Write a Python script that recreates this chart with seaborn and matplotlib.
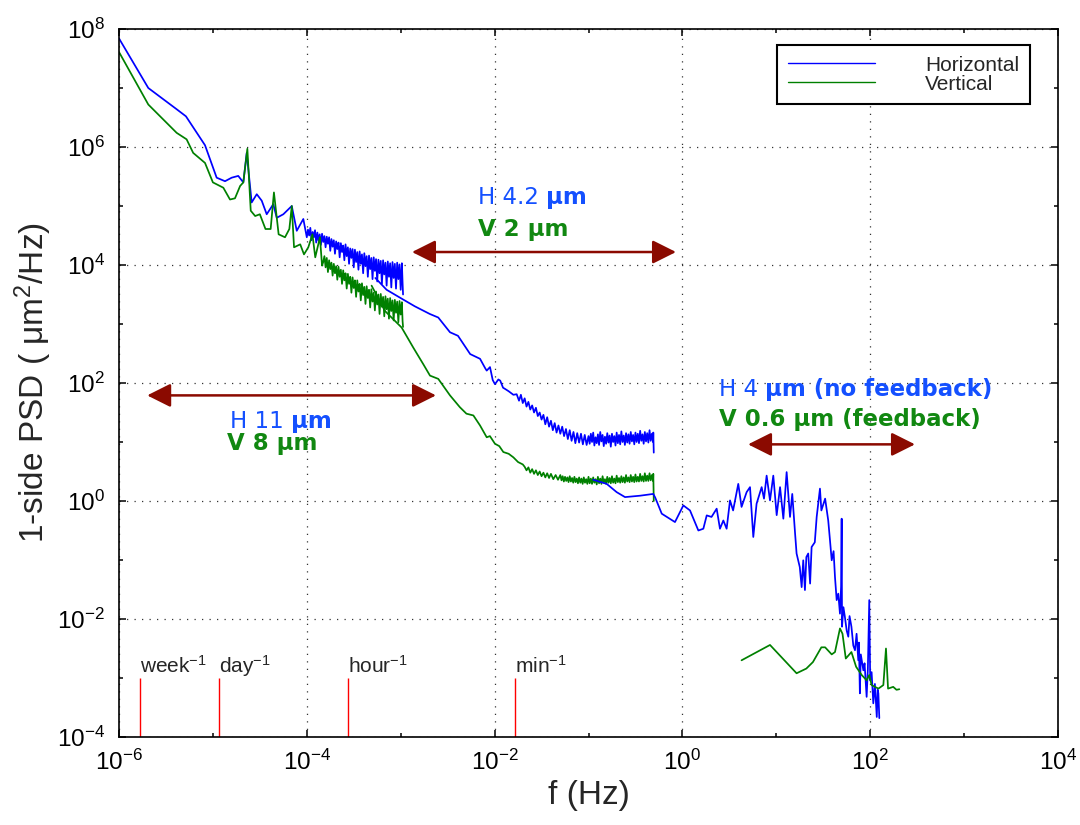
import numpy as np
import pandas as pd
import matplotlib
matplotlib.use("Agg")
import matplotlib.pyplot as plt
import matplotlib.ticker as mticker
import seaborn as sns

# values, stored as (log10 f, log10 PSD)
h_low = [(-6.0, 7.84), (-5.688, 7.00), (-5.386, 6.64), (-5.287, 6.52), (-5.084, 6.03),
         (-4.96, 5.48), (-4.871, 5.42), (-4.80, 5.48), (-4.73, 5.51), (-4.676, 5.40),
         (-4.64, 5.90), (-4.587, 5.06), (-4.533, 5.20), (-4.48, 5.09), (-4.427, 4.86),
         (-4.357, 5.03), (-4.32, 4.80), (-4.25, 4.86), (-4.16, 5.00), (-4.107, 4.58),
         (-4.037, 4.78),
         (-4.0000, 4.47), (-3.9875, 4.60), (-3.9750, 4.50), (-3.9625, 4.63), (-3.9500, 4.42),
         (-3.9375, 4.56), (-3.9250, 4.47), (-3.9125, 4.59), (-3.9000, 4.38), (-3.8875, 4.55),
         (-3.8750, 4.41), (-3.8625, 4.52), (-3.8500, 4.34), (-3.8375, 4.53), (-3.8250, 4.39),
         (-3.8125, 4.49), (-3.8000, 4.30), (-3.7875, 4.48), (-3.7750, 4.36), (-3.7625, 4.47),
         (-3.7500, 4.24), (-3.7375, 4.44), (-3.7250, 4.31), (-3.7125, 4.42), (-3.7000, 4.19),
         (-3.6875, 4.40), (-3.6750, 4.27), (-3.6625, 4.38), (-3.6500, 4.13), (-3.6375, 4.37),
         (-3.6250, 4.22), (-3.6125, 4.33), (-3.6000, 4.08), (-3.5875, 4.35), (-3.5750, 4.15),
         (-3.5625, 4.30), (-3.5500, 4.02), (-3.5375, 4.28), (-3.5250, 4.12), (-3.5125, 4.27),
         (-3.5000, 3.96), (-3.4875, 4.26), (-3.4750, 4.05), (-3.4625, 4.22), (-3.4500, 3.92),
         (-3.4375, 4.23), (-3.4250, 4.02), (-3.4125, 4.18), (-3.4000, 3.86), (-3.3875, 4.20),
         (-3.3750, 3.98), (-3.3625, 4.15), (-3.3500, 3.80), (-3.3375, 4.16), (-3.3250, 3.93),
         (-3.3125, 4.12), (-3.3000, 3.76), (-3.2875, 4.13), (-3.2750, 3.90), (-3.2625, 4.10),
         (-3.2500, 3.72), (-3.2375, 4.09), (-3.2250, 3.86), (-3.2125, 4.07), (-3.2000, 3.68),
         (-3.1875, 4.08), (-3.1750, 3.84), (-3.1625, 4.04), (-3.1500, 3.65), (-3.1375, 4.06),
         (-3.1250, 3.80), (-3.1125, 4.03), (-3.1000, 3.62), (-3.0875, 4.05), (-3.0750, 3.78),
         (-3.0625, 4.02), (-3.0500, 3.60), (-3.0375, 4.04), (-3.0250, 3.76), (-3.0125, 4.01),
         (-3.0000, 3.58), (-2.9875, 4.03), (-2.9800, 3.70), (-2.9750, 3.50)]

v_low = [(-6.0, 7.61), (-5.688, 6.72), (-5.386, 6.24), (-5.28, 6.13), (-5.21, 5.90),
         (-5.084, 5.73), (-5.0, 5.40), (-4.889, 5.31), (-4.818, 5.11), (-4.765, 5.13),
         (-4.71, 5.34), (-4.676, 5.40), (-4.633, 5.97), (-4.597, 4.92), (-4.55, 4.83),
         (-4.50, 4.86), (-4.44, 4.61), (-4.385, 4.61), (-4.35, 5.23), (-4.30, 4.52),
         (-4.232, 4.47), (-4.186, 4.61), (-4.16, 5.00), (-4.136, 4.30), (-4.07, 4.35),
         (-4.03, 4.18), (-3.984, 4.30), (-3.94, 4.52), (-3.91, 4.13), (-3.86, 4.47),
         (-3.8375, 3.99), (-3.8250, 4.05), (-3.8125, 4.15), (-3.8000, 3.96), (-3.7875, 4.12),
         (-3.7750, 3.88), (-3.7625, 4.08), (-3.7500, 3.93), (-3.7375, 4.04), (-3.7250, 3.82),
         (-3.7125, 4.02), (-3.7000, 3.86), (-3.6875, 3.98), (-3.6750, 3.75), (-3.6625, 3.97),
         (-3.6500, 3.80), (-3.6375, 3.92), (-3.6250, 3.68), (-3.6125, 3.91), (-3.6000, 3.74),
         (-3.5875, 3.86), (-3.5750, 3.60), (-3.5625, 3.85), (-3.5500, 3.68), (-3.5375, 3.80),
         (-3.5250, 3.53), (-3.5125, 3.79), (-3.5000, 3.61), (-3.4875, 3.74), (-3.4750, 3.46),
         (-3.4625, 3.74), (-3.4500, 3.55), (-3.4375, 3.68), (-3.4250, 3.40), (-3.4125, 3.69),
         (-3.4000, 3.49), (-3.3875, 3.63), (-3.3750, 3.34), (-3.3625, 3.64), (-3.3500, 3.44),
         (-3.3375, 3.58), (-3.3250, 3.28), (-3.3125, 3.59), (-3.3000, 3.38), (-3.2875, 3.53),
         (-3.2750, 3.23), (-3.2625, 3.55), (-3.2500, 3.33), (-3.2375, 3.50), (-3.2250, 3.17),
         (-3.2125, 3.51), (-3.2000, 3.29), (-3.1875, 3.46), (-3.1750, 3.13), (-3.1625, 3.47),
         (-3.1500, 3.25), (-3.1375, 3.43), (-3.1250, 3.09), (-3.1125, 3.44), (-3.1000, 3.22),
         (-3.0875, 3.40), (-3.0750, 3.06), (-3.0625, 3.41), (-3.0500, 3.19), (-3.0375, 3.38),
         (-3.0250, 3.03), (-3.0125, 3.39), (-3.0000, 3.16), (-2.9875, 3.37), (-2.9800, 3.05),
         (-2.9750, 2.95)]

h_mid = [(-3.27, 3.78), (-3.15, 3.58), (-2.99, 3.43), (-2.85, 3.30), (-2.69, 3.17),
         (-2.60, 3.11), (-2.475, 2.86), (-2.39, 2.80), (-2.26, 2.49), (-2.155, 2.41),
         (-2.10, 2.25), (-2.084, 2.21), (-2.049, 2.27), (-2.02, 2.05), (-1.996, 1.98),
         (-1.96, 2.06), (-1.94, 2.04), (-1.91, 1.92), (-1.889, 1.90), (-1.85, 1.86),
         (-1.80, 1.80), (-1.765, 1.81), (-1.74, 1.70), (-1.72, 1.80), (-1.70, 1.66),
         (-1.68, 1.74), (-1.66, 1.60), (-1.64, 1.68), (-1.62, 1.55), (-1.60, 1.62),
         (-1.58, 1.50), (-1.56, 1.58), (-1.54, 1.44), (-1.52, 1.50), (-1.50, 1.38),
         (-1.48, 1.46), (-1.46, 1.30), (-1.44, 1.42), (-1.42, 1.26), (-1.40, 1.36),
         (-1.38, 1.20), (-1.36, 1.32), (-1.34, 1.16), (-1.32, 1.28), (-1.30, 1.14),
         (-1.28, 1.26), (-1.26, 1.10), (-1.24, 1.22), (-1.22, 1.05), (-1.20, 1.20),
         (-1.18, 1.02), (-1.16, 1.17), (-1.14, 0.98), (-1.12, 1.15), (-1.10, 0.99),
         (-1.08, 1.14), (-1.06, 0.96), (-1.04, 1.12), (-1.02, 0.95),
         (-1.0000, 1.10), (-0.9875, 0.97), (-0.9750, 1.14), (-0.9625, 1.00), (-0.9500, 1.16),
         (-0.9375, 0.94), (-0.9250, 1.08), (-0.9125, 0.98), (-0.9000, 1.13), (-0.8875, 0.95),
         (-0.8750, 1.17), (-0.8625, 1.01), (-0.8500, 1.12), (-0.8375, 0.93), (-0.8250, 1.09),
         (-0.8125, 0.97), (-0.8000, 1.15), (-0.7875, 0.99), (-0.7750, 1.11), (-0.7625, 0.92),
         (-0.7500, 1.14), (-0.7375, 1.00), (-0.7250, 1.10), (-0.7125, 0.94), (-0.7000, 1.16),
         (-0.6875, 0.98), (-0.6750, 1.12), (-0.6625, 0.96), (-0.6500, 1.18), (-0.6375, 1.00),
         (-0.6250, 1.11), (-0.6125, 0.95), (-0.6000, 1.15), (-0.5875, 0.99), (-0.5750, 1.13),
         (-0.5625, 0.97), (-0.5500, 1.17), (-0.5375, 1.01), (-0.5250, 1.12), (-0.5125, 0.96),
         (-0.5000, 1.16), (-0.4875, 1.00), (-0.4750, 1.14), (-0.4625, 0.98), (-0.4500, 1.19),
         (-0.4375, 1.02), (-0.4250, 1.13), (-0.4125, 0.97), (-0.4000, 1.17), (-0.3875, 1.01),
         (-0.3750, 1.15), (-0.3625, 0.99), (-0.3500, 1.20), (-0.3375, 1.02), (-0.3250, 1.14),
         (-0.3125, 1.00), (-0.3100, 1.16), (-0.3050, 0.82)]

v_mid = [(-3.31, 3.65), (-3.167, 3.22), (-2.99, 2.94), (-2.866, 2.60), (-2.76, 2.32),
         (-2.688, 2.125), (-2.60, 2.07), (-2.475, 1.79), (-2.37, 1.59), (-2.30, 1.48),
         (-2.226, 1.45), (-2.155, 1.28), (-2.084, 1.08), (-2.05, 1.10), (-1.996, 0.97),
         (-1.95, 0.93), (-1.907, 0.83), (-1.85, 0.80), (-1.80, 0.74), (-1.75, 0.66),
         (-1.70, 0.62), (-1.68, 0.58), (-1.66, 0.52), (-1.64, 0.57), (-1.62, 0.48),
         (-1.60, 0.54), (-1.58, 0.46), (-1.56, 0.52), (-1.54, 0.44), (-1.52, 0.50),
         (-1.50, 0.42), (-1.48, 0.48), (-1.46, 0.40), (-1.44, 0.47), (-1.42, 0.39),
         (-1.40, 0.46), (-1.375, 0.37), (-1.35, 0.44), (-1.325, 0.36),
         (-1.3000, 0.44), (-1.2875, 0.35), (-1.2750, 0.42), (-1.2625, 0.33), (-1.2500, 0.41),
         (-1.2375, 0.34), (-1.2250, 0.40), (-1.2125, 0.32), (-1.2000, 0.42), (-1.1875, 0.33),
         (-1.1750, 0.39), (-1.1625, 0.31), (-1.1500, 0.41), (-1.1375, 0.32), (-1.1250, 0.38),
         (-1.1125, 0.30), (-1.1000, 0.40), (-1.0875, 0.31), (-1.0750, 0.38), (-1.0625, 0.29),
         (-1.0500, 0.40), (-1.0375, 0.31), (-1.0250, 0.37), (-1.0125, 0.29), (-1.0000, 0.41),
         (-0.9875, 0.30), (-0.9750, 0.38), (-0.9625, 0.29), (-0.9500, 0.40), (-0.9375, 0.31),
         (-0.9250, 0.37), (-0.9125, 0.28), (-0.9000, 0.41), (-0.8875, 0.30), (-0.8750, 0.38),
         (-0.8625, 0.29), (-0.8500, 0.42), (-0.8375, 0.31), (-0.8250, 0.37), (-0.8125, 0.29),
         (-0.8000, 0.41), (-0.7875, 0.31), (-0.7750, 0.39), (-0.7625, 0.30), (-0.7500, 0.42),
         (-0.7375, 0.31), (-0.7250, 0.38), (-0.7125, 0.30), (-0.7000, 0.43), (-0.6875, 0.32),
         (-0.6750, 0.39), (-0.6625, 0.31), (-0.6500, 0.42), (-0.6375, 0.32), (-0.6250, 0.40),
         (-0.6125, 0.31), (-0.6000, 0.44), (-0.5875, 0.33), (-0.5750, 0.40), (-0.5625, 0.32),
         (-0.5500, 0.44), (-0.5375, 0.33), (-0.5250, 0.41), (-0.5125, 0.32), (-0.5000, 0.45),
         (-0.4875, 0.33), (-0.4750, 0.41), (-0.4625, 0.33), (-0.4500, 0.46), (-0.4375, 0.34),
         (-0.4250, 0.42), (-0.4125, 0.33), (-0.4000, 0.47), (-0.3875, 0.34), (-0.3750, 0.43),
         (-0.3625, 0.34), (-0.3500, 0.47), (-0.3375, 0.35), (-0.3250, 0.44), (-0.3125, 0.34),
         (-0.3100, 0.46), (-0.3050, 0.00)]

h_high = [(-0.95, 0.36), (-0.806, 0.29), (-0.70, 0.15), (-0.611, 0.066), (-0.45, 0.09),
          (-0.31, 0.12), (-0.29, 0.06), (-0.22, -0.215), (-0.079, -0.357), (0.01, -0.075),
          (0.081, -0.16), (0.17, -0.50), (0.223, -0.47), (0.259, -0.244), (0.31, -0.27),
          (0.365, -0.13), (0.40, -0.47), (0.436, -0.33), (0.471, -0.47), (0.507, 0.01),
          (0.54, -0.16), (0.595, 0.29), (0.63, -0.10), (0.684, 0.15), (0.72, 0.235),
          (0.755, -0.61), (0.79, -0.046), (0.844, 0.235), (0.869, 0.04), (0.897, 0.43),
          (0.933, 0.01), (0.968, 0.43), (1.004, -0.24), (1.04, 0.235), (1.075, -0.30),
          (1.11, 0.49), (1.146, -0.27), (1.17, 0.12), (1.20, -0.55), (1.216, -0.89),
          (1.25, -1.12), (1.27, -1.46), (1.287, -1.005), (1.305, -1.51), (1.32, -0.95),
          (1.34, -0.89), (1.36, -1.40), (1.376, -0.78), (1.41, -0.70), (1.43, -0.27),
          (1.465, 0.21), (1.48, -0.16), (1.52, 0.04), (1.553, -0.33), (1.572, -0.67),
          (1.59, -1.005), (1.61, -0.85), (1.625, -1.29), (1.643, -1.68), (1.66, -1.57),
          (1.678, -1.91), (1.69, -1.45), (1.696, -0.30), (1.70, -2.13), (1.715, -1.80),
          (1.73, -1.96), (1.75, -2.20), (1.767, -2.30), (1.78, -1.95), (1.80, -2.13),
          (1.82, -2.45), (1.838, -2.53), (1.855, -2.25), (1.873, -2.70), (1.88, -2.40),
          (1.89, -3.26), (1.90, -2.60), (1.927, -2.87), (1.94, -2.75), (1.962, -3.32),
          (1.975, -2.85), (1.99, -1.68), (2.0, -3.04), (2.015, -2.90), (2.033, -3.43),
          (2.05, -3.10), (2.07, -3.66), (2.08, -3.20), (2.087, -3.26), (2.097, -3.68)]

v_high = [(0.63, -2.70), (0.933, -2.44), (1.216, -2.92), (1.32, -2.84), (1.39, -2.73),
          (1.48, -2.48), (1.52, -2.48), (1.59, -2.60), (1.625, -2.56), (1.678, -2.16),
          (1.705, -2.25), (1.74, -2.67), (1.80, -2.56), (1.85, -2.81), (1.91, -2.95),
          (1.962, -3.04), (1.99, -2.95), (2.015, -3.12), (2.087, -3.18), (2.14, -3.12),
          (2.168, -2.50), (2.19, -3.18), (2.245, -3.15), (2.28, -3.20), (2.31, -3.19)]

period_names = ["week", "day", "hour", "min"]
period_seconds = [604800, 86400, 3600, 60]

BLUE = "#0000ff"
GREEN = "#008000"
TXT_BLUE = "#1450ff"
TXT_GREEN = "#118811"
DARKRED = "#8b0a00"

sns.set_theme(style="ticks")
plt.rcParams["font.family"] = ["Liberation Sans", "DejaVu Sans"]
plt.rcParams["mathtext.fontset"] = "custom"
plt.rcParams["mathtext.rm"] = "Liberation Sans"
plt.rcParams["mathtext.it"] = "Liberation Sans:italic"
plt.rcParams["mathtext.bf"] = "Liberation Sans:bold"

fig = plt.figure(figsize=(10.8, 8.25), dpi=100)
ax = fig.add_axes([119 / 1080, 88 / 825, 939 / 1080, 708 / 825])
ax.set_xscale("log")
ax.set_yscale("log")
ax.set_xlim(1e-6, 1e4)
ax.set_ylim(1e-4, 1e8)


def seg(points):
    arr = np.array(points)
    return pd.DataFrame({"f": 10 ** arr[:, 0], "psd": 10 ** arr[:, 1]})


plot_order = [(h_low, BLUE, "Horizontal"), (v_low, GREEN, "Vertical"),
              (h_mid, BLUE, None), (v_mid, GREEN, None),
              (h_high, BLUE, None), (v_high, GREEN, None)]
for pts, col, lab in plot_order:
    sns.lineplot(data=seg(pts), x="f", y="psd", color=col, lw=1.25, sort=False,
                 estimator=None, ax=ax, label=lab, legend=False)

# reference frequencies
freqs = [1.0 / s for s in period_seconds]
ax.vlines(freqs, 1e-4, 1e-3, color="#ff0000", lw=1.0)
for name, fr in zip(period_names, freqs):
    ax.text(fr, 10 ** -2.917, name + "$^{-1}$", fontsize=15, va="baseline", ha="left")

# arrows
arrows = [(-2.88, -0.068, 4.22), (-5.70, -2.624, 1.79), (0.699, 2.477, 0.96)]
for x1, x2, yy in arrows:
    ax.annotate("", xy=(10 ** x2, 10 ** yy), xytext=(10 ** x1, 10 ** yy),
                arrowprops=dict(arrowstyle="<|-|>,head_length=1.0,head_width=0.5",
                                mutation_scale=14.4, color=DARKRED, lw=1.8,
                                shrinkA=0, shrinkB=0))

ANN_FONT = ["DejaVu Sans"]


def mixed(x, y, plain, bold, color, fs=16.5):
    t = ax.text(10 ** x, 10 ** y, plain, color=color, fontsize=fs, ha="left",
                va="baseline", family=ANN_FONT)
    ax.annotate(bold, xy=(1, 0), xycoords=t, xytext=(5, 0), textcoords="offset points",
                color=color, fontsize=fs, fontweight="bold", ha="left", va="bottom",
                family=ANN_FONT)


def bold_text(x, y, s, color, fs=16.5):
    ax.text(10 ** x, 10 ** y, s, color=color, fontsize=fs, fontweight="bold",
            va="baseline", family=ANN_FONT)


mixed(-2.177, 5.036, "H 4.2", "\u03bcm", TXT_BLUE)
bold_text(-2.177, 4.494, "V 2 \u03bcm", TXT_GREEN)
mixed(-4.818, 1.245, "H 11", "\u03bcm", TXT_BLUE)
bold_text(-4.846, 0.856, "V 8 \u03bcm", TXT_GREEN)
mixed(0.394, 1.787, "H 4", "\u03bcm (no feedback)", TXT_BLUE)
bold_text(0.385, 1.279, "V 0.6 \u03bcm (feedback)", TXT_GREEN)

# ticks and grid
fmt = mticker.FuncFormatter(lambda v, p: "$10^{%d}$" % round(np.log10(v)))
ax.xaxis.set_major_locator(mticker.FixedLocator([10.0 ** e for e in range(-6, 5, 2)]))
ax.xaxis.set_minor_locator(mticker.FixedLocator([10.0 ** e for e in range(-5, 4, 2)]))
ax.yaxis.set_major_locator(mticker.FixedLocator([10.0 ** e for e in range(-4, 9, 2)]))
ax.yaxis.set_minor_locator(mticker.FixedLocator([10.0 ** e for e in range(-3, 8, 2)]))
ax.xaxis.set_major_formatter(fmt)
ax.yaxis.set_major_formatter(fmt)
ax.xaxis.set_minor_formatter(mticker.NullFormatter())
ax.yaxis.set_minor_formatter(mticker.NullFormatter())
ax.tick_params(which="both", direction="in", top=True, right=True, width=1.1, colors="black")
ax.tick_params(which="major", length=5, labelsize=17.5)
ax.tick_params(which="minor", length=3)
ax.tick_params(axis="x", which="major", pad=9)
ax.tick_params(axis="y", which="major", pad=10)
ax.grid(True, which="major", linestyle=(0, (1, 5)), color="#333333", lw=0.9)
for sp in ax.spines.values():
    sp.set_linewidth(1.2)
    sp.set_color("black")

ax.set_xlabel("f (Hz)", fontsize=24, labelpad=4)
ax.set_ylabel("1-side PSD ( \u03bcm$^2$/Hz)", fontsize=24, labelpad=2)

leg = ax.legend(loc="upper right", bbox_to_anchor=(0.970, 0.977), borderaxespad=0,
                fontsize=15, handlelength=4.2, handletextpad=2.4, labelspacing=0.0,
                borderpad=0.5, fancybox=False, framealpha=1, edgecolor="black")
leg.get_frame().set_linewidth(1.5)
for line in leg.get_lines():
    line.set_linewidth(1.0)

fig.savefig("out.png", dpi=100)
